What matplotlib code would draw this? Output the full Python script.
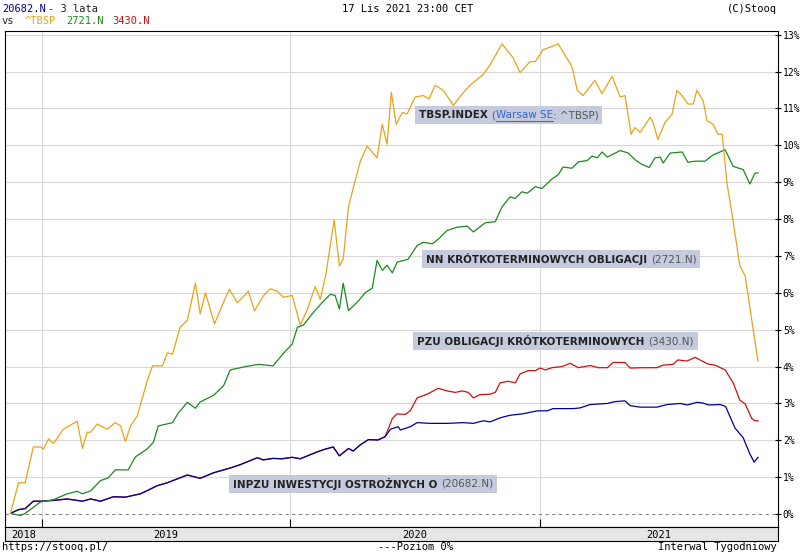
import pandas as pd
import matplotlib
matplotlib.use("Agg")
import matplotlib.pyplot as plt

START = pd.Timestamp("2018-11-16")

# tygodnie od startu / zmiana %
tbsp_w = [0, 1.7, 3.1, 4.8, 6.3, 6.9, 8.0, 9.0, 11.1, 14.0, 15.1, 16.1, 16.8, 18.2, 20.3, 22.0, 23.1, 24.1,
          25.2, 26.6, 28.7, 29.8, 31.9, 32.9, 34.0, 35.6, 37.1, 38.8, 39.8, 40.9, 42.8, 44.4, 45.9, 47.6,
          49.9, 51.2, 53.0, 54.5, 56.0, 57.2, 59.1, 60.8, 62.3, 63.9, 65.0, 66.2,
          67.9, 69.0, 69.8, 70.9, 71.9, 73.4, 74.8, 76.9, 78.0, 79.0, 79.9, 80.9, 82.2, 83.2, 84.9, 86.6,
          87.8, 89.1, 90.8, 92.9, 94.8, 96.4, 99.0, 100.6, 103.1, 104.4, 105.5, 106.9, 109.0, 110.1, 111.7,
          114.9, 117.8, 118.9, 120.1, 122.6, 124.1, 126.2, 127.9, 128.9, 130.2, 131.0, 132.1, 134.2, 134.8,
          135.8, 137.3, 138.8, 139.8, 141.1, 142.1, 143.2, 144.0, 145.3, 146.1, 147.4, 148.4, 149.3, 150.3,
          151.4, 153.0, 154.1, 155.8, 156.8]
tbsp_v = [0.02, 0.85, 0.85, 1.82, 1.82, 1.76, 2.04, 1.91, 2.3, 2.52, 1.78, 2.22, 2.22, 2.44, 2.3, 2.48, 2.39,
          1.97, 2.39, 2.66, 3.62, 4.02, 4.02, 4.37, 4.34, 5.07, 5.25, 6.26, 5.43, 6.0, 5.16, 5.65, 6.1, 5.73,
          6.04, 5.51, 5.91, 6.11, 6.04, 5.88, 5.93, 5.12, 5.56, 6.17, 5.82, 6.53,
          7.97, 6.73, 6.91, 8.33, 8.84, 9.57, 9.98, 9.66, 10.57, 10.03, 11.44, 10.57, 10.89, 10.85, 11.31,
          11.35, 11.26, 11.63, 11.49, 11.08, 11.4, 11.63, 11.9, 12.18, 12.75, 12.54, 12.36, 11.97, 12.27,
          12.27, 12.59, 12.75, 12.13, 11.49, 11.35, 11.76, 11.4, 11.87, 11.31, 11.35, 10.3, 10.48, 10.35,
          10.76, 10.62, 10.16, 10.62, 10.85, 11.49, 11.31, 11.12, 11.12, 11.49, 11.21, 10.67, 10.57, 10.3,
          10.3, 8.97, 8.1, 6.73, 6.46, 5.0, 4.15]

nn_w = [0, 2.1, 3.1, 6.3, 9.0, 11.9, 14.0, 15.1, 16.8, 18.9, 20.5, 22.0, 24.7, 26.2, 28.7, 30.0, 31.0, 34.0,
        35.2, 37.1, 38.8, 39.8, 42.6, 44.7, 46.1, 49.3, 52.0, 55.1, 57.2, 59.1, 60.2, 61.4, 63.3, 65.4, 67.1,
        68.1, 69.0, 69.8, 70.9, 72.7, 74.4, 75.9, 76.9, 78.0, 79.0, 80.1, 81.1, 83.4, 85.3, 86.6, 88.5, 89.7,
        91.6, 93.7, 95.8, 97.1, 99.6, 101.7, 103.1, 104.8, 105.9, 107.3, 108.4, 110.1, 111.5, 113.6, 114.9,
        115.9, 117.8, 119.1, 121.0, 122.0, 123.1, 124.1, 125.2, 127.9, 129.6, 131.0, 132.5, 134.0, 135.2,
        136.3, 136.9, 138.4, 140.9, 142.1, 143.6, 145.7, 147.4, 149.9, 151.6, 153.7, 155.1, 156.2, 156.8]
nn_v = [0.02, -0.04, 0.02, 0.33, 0.39, 0.55, 0.62, 0.55, 0.63, 0.91, 0.98, 1.2, 1.2, 1.55, 1.77, 1.95, 2.39,
        2.48, 2.74, 3.03, 2.87, 3.04, 3.22, 3.48, 3.91, 4.0, 4.06, 4.02, 4.35, 4.61, 5.07, 5.12, 5.43, 5.74,
        5.96, 5.93, 5.56, 6.26, 5.52, 5.74, 6.0, 6.13, 6.88, 6.61, 6.75, 6.54, 6.83, 6.91, 7.28, 7.37, 7.33,
        7.45, 7.69, 7.78, 7.81, 7.65, 7.9, 7.93, 8.33, 8.6, 8.56, 8.74, 8.7, 8.88, 8.83, 9.09, 9.2, 9.41, 9.38,
        9.55, 9.59, 9.71, 9.66, 9.82, 9.68, 9.86, 9.79, 9.61, 9.48, 9.4, 9.66, 9.68, 9.52, 9.79, 9.82, 9.54,
        9.57, 9.57, 9.74, 9.88, 9.43, 9.34, 8.95, 9.25, 9.25]

inpzu_w = [0, 1.7, 3.1, 4.8, 6.3, 9.0, 11.9, 15.1, 16.8, 18.9, 21.6, 24.1, 27.3, 30.8, 32.9, 37.1, 39.8, 42.6,
           46.1, 48.2, 51.8, 53.0, 55.1, 57.0, 59.1, 60.8, 64.4, 66.0, 67.7, 69.0, 70.9, 71.9, 73.4, 75.1,
           77.1, 78.6, 79.7, 81.3, 81.8, 83.9, 85.3, 88.1, 91.6, 95.0, 97.1, 99.2, 100.6, 102.7, 104.8, 107.5,
           110.5, 112.6, 113.8, 118.0, 119.5, 121.6, 125.2, 126.8, 128.9, 130.0, 132.1, 133.5, 135.6, 137.7,
           140.5, 142.0, 144.0, 145.3, 146.4, 148.9, 150.0, 152.0, 153.7, 155.1, 156.0, 156.8]
inpzu_v = [0.02, 0.12, 0.15, 0.35, 0.35, 0.37, 0.41, 0.35, 0.41, 0.35, 0.47, 0.46, 0.55, 0.77, 0.85, 1.06,
           0.97, 1.12, 1.25, 1.34, 1.53, 1.47, 1.51, 1.5, 1.54, 1.5, 1.69, 1.76, 1.82, 1.58, 1.78, 1.71, 1.88,
           2.02, 2.01, 2.1, 2.3, 2.37, 2.28, 2.37, 2.48, 2.46, 2.46, 2.48, 2.46, 2.53, 2.5, 2.61, 2.68, 2.72,
           2.8, 2.8, 2.86, 2.86, 2.88, 2.97, 3.0, 3.05, 3.07, 2.94, 2.9, 2.9, 2.9, 2.97, 3.0, 2.96, 3.03, 3.01,
           2.96, 2.97, 2.92, 2.33, 2.07, 1.63, 1.41, 1.54]

# PZU pokrywa sie z INPZU do ok. 79 tygodnia
pzu_w = inpzu_w[:36] + [80.1, 81.1, 82.8, 83.9, 85.3, 87.4, 89.7, 91.6, 93.3, 94.8, 96.0, 97.1, 98.5, 100.6,
                        101.7, 102.7, 104.4, 105.9, 106.9, 108.6, 110.1, 111.1, 112.2, 113.6, 115.7, 117.4,
                        119.1, 121.6, 123.3, 125.2, 126.4, 128.9, 130.0, 132.7, 135.6, 136.9, 139.0, 140.0,
                        141.9, 143.6, 145.1, 146.3, 147.8, 149.9, 151.6, 153.0, 154.1, 155.5, 156.2, 156.8]
pzu_v = inpzu_v[:36] + [2.59, 2.72, 2.7, 2.81, 3.15, 3.25, 3.41, 3.34, 3.3, 3.34, 3.3, 3.15, 3.24, 3.25, 3.3,
                        3.56, 3.6, 3.56, 3.8, 3.89, 3.89, 3.96, 3.91, 3.97, 4.0, 4.09, 3.97, 4.03, 3.97, 3.97,
                        4.11, 4.11, 3.96, 3.97, 3.97, 4.04, 4.06, 4.18, 4.15, 4.25, 4.15, 4.07, 4.04, 3.91,
                        3.56, 3.09, 2.99, 2.59, 2.53, 2.53]

years = [2018, 2019, 2020, 2021]
y_ticks = list(range(0, 14))

ORANGE, GREEN, RED, BLUE = "#e8a317", "#1a8a1a", "#cc1111", "#000099"
MONO = "DejaVu Sans Mono"
BOXC = "#c5cbdc"


def to_dates(weeks):
    return START + pd.to_timedelta(pd.Series(weeks) * 7, unit="D")


fig = plt.figure(figsize=(8, 5.58), dpi=100)
ax = fig.add_axes([5 / 800, 1 - 527 / 558, 773 / 800, 496 / 558])

x0 = pd.Timestamp("2018-11-08")
x1 = pd.Timestamp("2021-12-17")
ax.set_xlim(x0, x1)
ax.set_ylim(-0.35, 13.1)

for yv in y_ticks[1:]:
    ax.axhline(yv, color="#d8d8d8", lw=0.8, zorder=0)
for yr in years[1:]:
    ax.axvline(pd.Timestamp(f"{yr}-01-01"), color="#d8d8d8", lw=0.8, zorder=0)
ax.axhline(0, color="#888888", lw=0.8, ls=(0, (3, 3)), zorder=1)

ax.plot(to_dates(inpzu_w), inpzu_v, color=BLUE, lw=0.9, zorder=3)
ax.plot(to_dates(pzu_w), pzu_v, color=RED, lw=0.9, zorder=2)
ax.plot(to_dates(nn_w), nn_v, color=GREEN, lw=0.9, zorder=3)
ax.plot(to_dates(tbsp_w), tbsp_v, color=ORANGE, lw=0.9, zorder=4)

ax.yaxis.tick_right()
ax.set_yticks(y_ticks)
ax.set_yticklabels([f"{v}%" for v in y_ticks], fontsize=7, family=MONO)
ax.tick_params(axis="y", direction="inout", length=5, width=0.8, pad=1)
ax.set_xticks([pd.Timestamp(f"{yr}-01-01") for yr in years[1:]])
ax.set_xticklabels([])
ax.tick_params(axis="x", direction="in", length=6, width=0.8)
for s in ax.spines.values():
    s.set_linewidth(0.8)

# pasek z latami
band = fig.add_axes([5 / 800, 1 - 541 / 558, 773 / 800, 14 / 558])
band.set_facecolor("#e6e6e6")
band.set_xlim(x0, x1)
band.set_ylim(0, 1)
band.set_xticks([])
band.set_yticks([])
for s in band.spines.values():
    s.set_linewidth(0.8)
for i, yr in enumerate(years):
    a = max(pd.Timestamp(f"{yr}-01-01"), x0)
    b = min(pd.Timestamp(f"{yr + 1}-01-01"), x1)
    band.text(a + (b - a) / 2, 0.45, str(yr), ha="center", va="center", fontsize=7.5, family=MONO)

# etykiety serii: pogrubiona nazwa + szary kod, wspolne tlo
labels = [
    (415, 115, "TBSP.INDEX", ["(", "Warsaw SE", ": ^TBSP)"]),
    (422, 259, "NN KRÓTKOTERMINOWYCH OBLIGACJI", ["(2721.N)"]),
    (413, 341, "PZU OBLIGACJI KRÓTKOTERMINOWYCH", ["(3430.N)"]),
    (229, 484, "INPZU INWESTYCJI OSTROŻNYCH O", ["(20682.N)"]),
]
fig.canvas.draw()
renderer = fig.canvas.get_renderer()
for px, py, name, parts in labels:
    t = fig.text((px + 4) / 800, 1 - py / 558, name + " ", fontsize=7.5, fontweight="bold",
                 color="#222222", va="center", ha="left", zorder=6)
    xe = t.get_window_extent(renderer).x1
    for part in parts:
        link = part == "Warsaw SE"
        t = fig.text(xe / 800, 1 - py / 558, part, fontsize=7.5,
                     color="#3366cc" if link else "#555555", va="center", ha="left", zorder=6)
        bb = t.get_window_extent(renderer)
        if link:
            fig.add_artist(plt.Line2D([bb.x0 / 800, bb.x1 / 800], [1 - (py + 6) / 558] * 2,
                                      color="#3366cc", lw=0.7, zorder=6))
        xe = bb.x1
    rect = plt.Rectangle((px / 800, 1 - (py + 9) / 558), (xe + 4 - px) / 800, 18 / 558,
                         transform=fig.transFigure, facecolor=BOXC, edgecolor="none", zorder=5)
    fig.patches.append(rect)

# nagłówek
fig.text(2 / 800, 1 - 9 / 558, "20682.N", color=BLUE, fontsize=7.5, family=MONO, va="center")
fig.text(48 / 800, 1 - 9 / 558, "- 3 lata", color="#222222", fontsize=7.5, family=MONO, va="center")
fig.text(2 / 800, 1 - 21 / 558, "vs", color="#222222", fontsize=7.5, family=MONO, va="center")
fig.text(25 / 800, 1 - 21 / 558, "^TBSP", color=ORANGE, fontsize=7.5, family=MONO, va="center")
fig.text(66 / 800, 1 - 21 / 558, "2721.N", color=GREEN, fontsize=7.5, family=MONO, va="center")
fig.text(112 / 800, 1 - 21 / 558, "3430.N", color=RED, fontsize=7.5, family=MONO, va="center")
fig.text(408 / 800, 1 - 9 / 558, "17 Lis 2021 23:00 CET", fontsize=7.5, family=MONO, va="center", ha="center")
fig.text(777 / 800, 1 - 9 / 558, "(C)Stooq", fontsize=7.5, family=MONO, va="center", ha="right")

# stopka
fig.text(2 / 800, 1 - 547 / 558, "https://stooq.pl/", fontsize=7.5, family=MONO, va="center")
fig.text(415 / 800, 1 - 547 / 558, "---Poziom 0%", fontsize=7.5, family=MONO, va="center", ha="center")
fig.text(777 / 800, 1 - 547 / 558, "Interwal Tygodniowy", fontsize=7.5, family=MONO, va="center", ha="right")

fig.savefig("out.png", dpi=100)
